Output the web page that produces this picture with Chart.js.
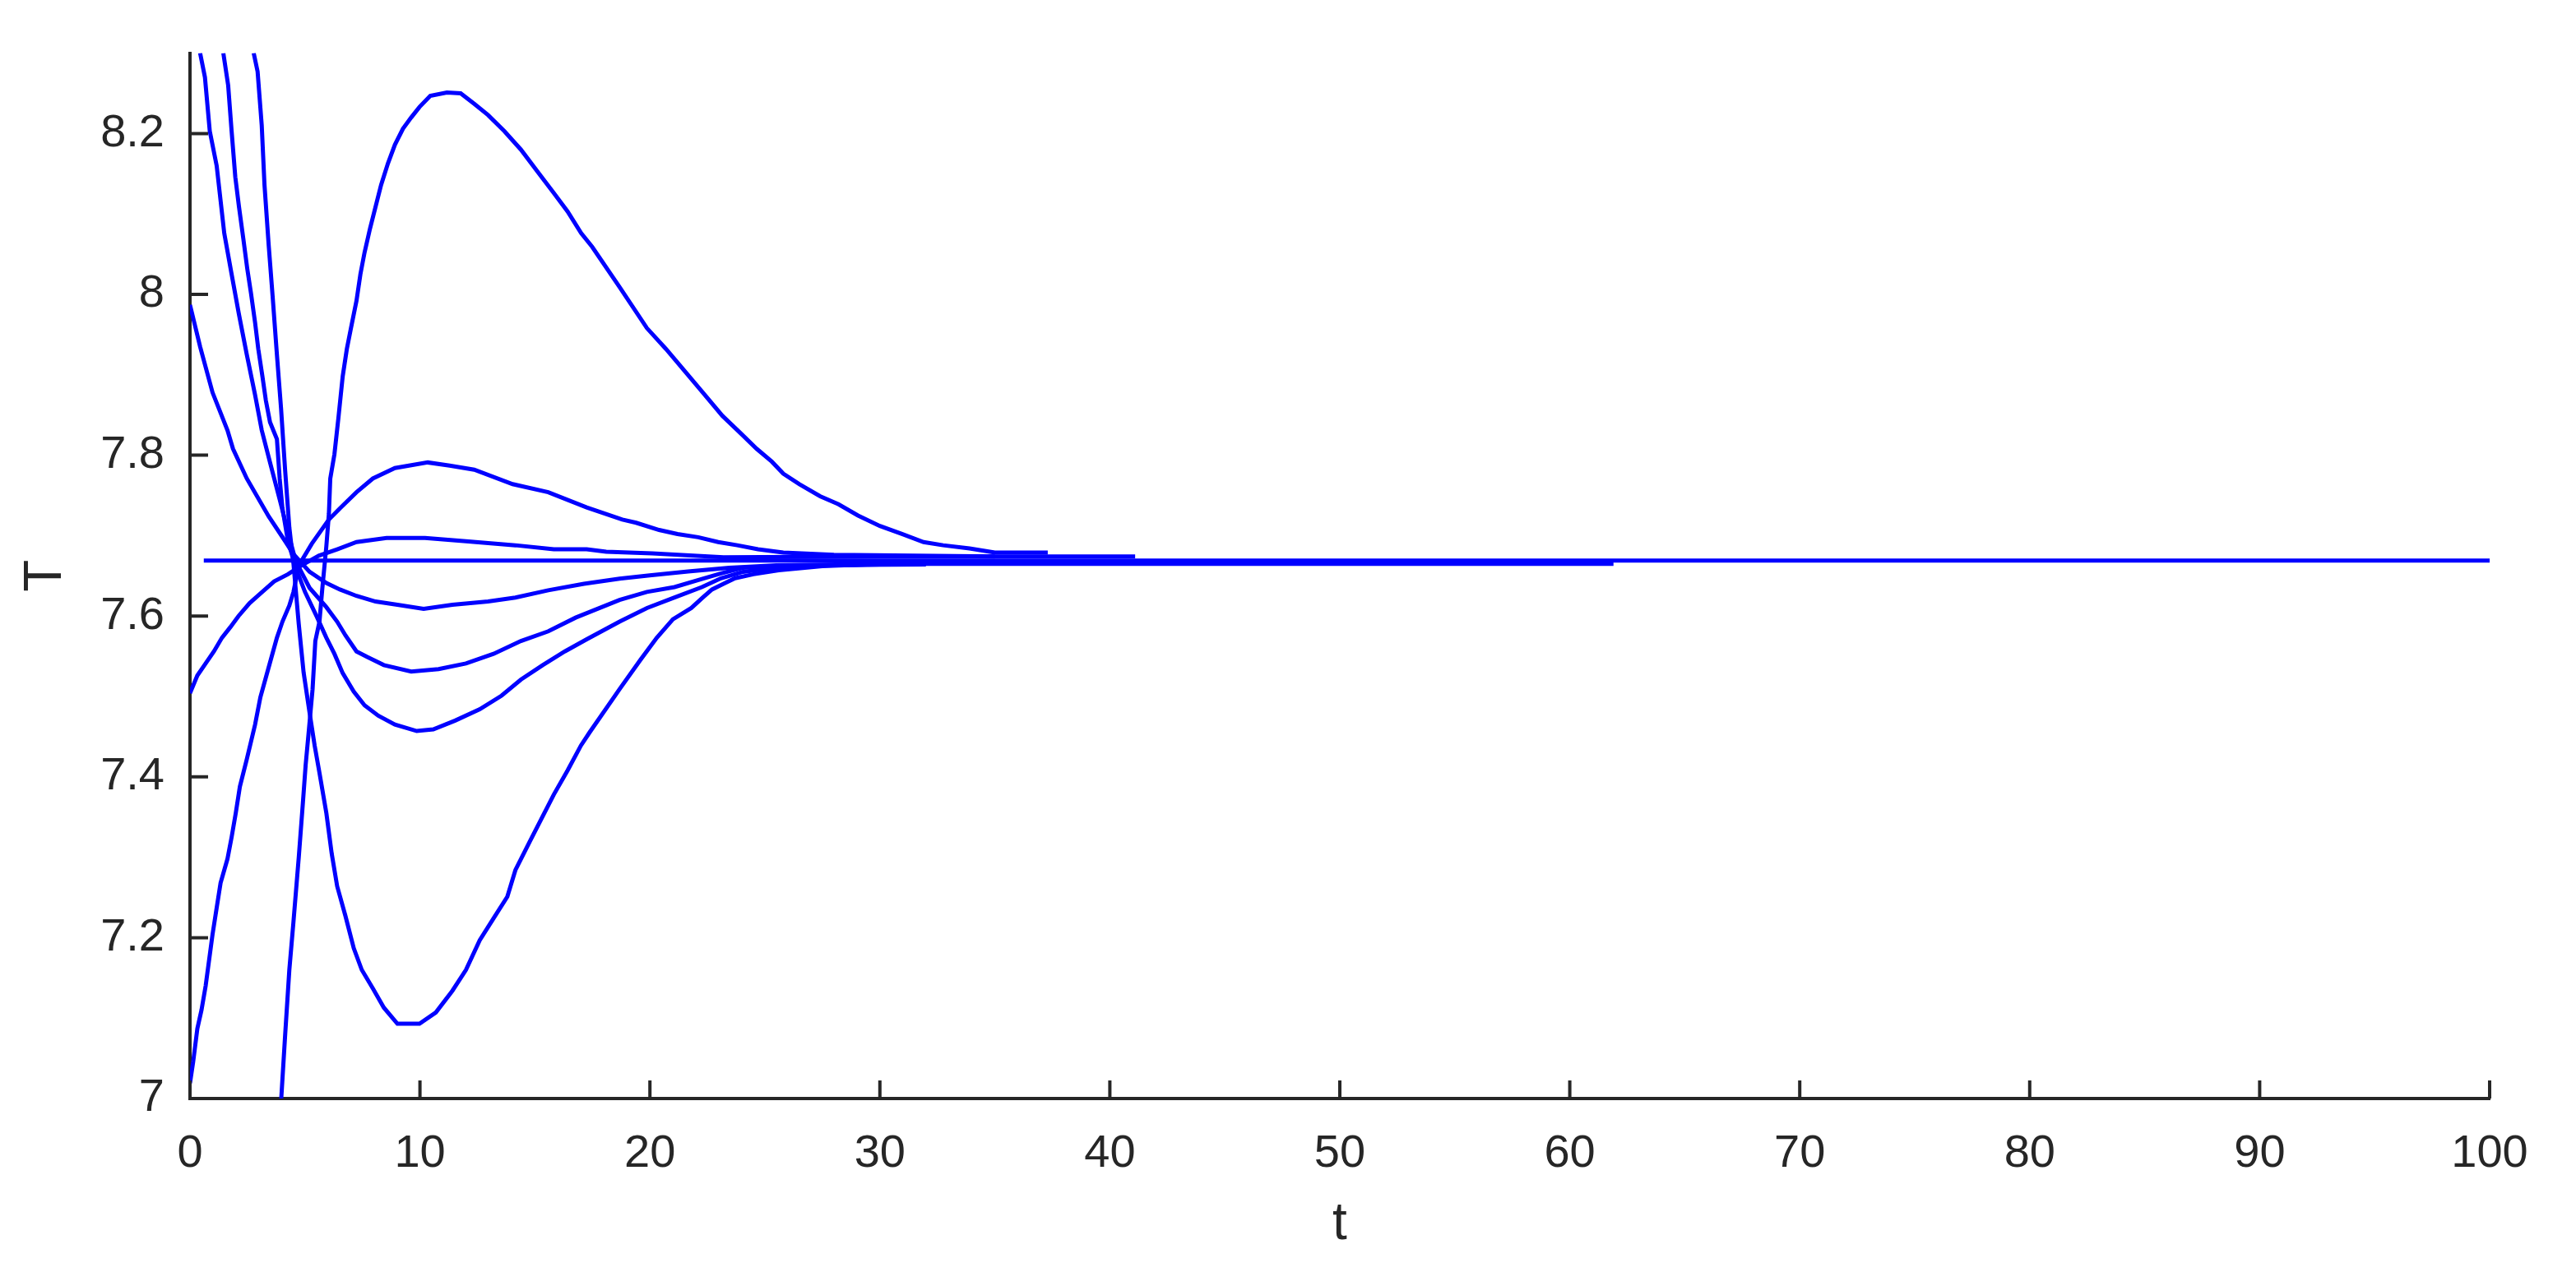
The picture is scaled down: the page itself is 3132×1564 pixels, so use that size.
<!DOCTYPE html>
<html>
<head>
<meta charset="utf-8">
<script src="https://cdn.jsdelivr.net/npm/chart.js@4.4.1/dist/chart.umd.min.js"></script>
<style>
  html, body { margin: 0; padding: 0; background: #fff; }
  #wrap { width: 3132px; height: 1564px; }
</style>
</head>
<body>
<div id="wrap"><canvas id="chart" width="3132" height="1564"></canvas></div>
<script>
// tick positions
const xTicks = [0, 10, 20, 30, 40, 50, 60, 70, 80, 90, 100];
const yTicks = [7, 7.2, 7.4, 7.6, 7.8, 8, 8.2];

// equilibrium line
const tEq = [0.6, 100];
const TEq = [7.669, 7.669];

// trajectory starting at 7.98
const tA = [0, 0.44, 0.98, 1.63, 1.87, 2.47, 3.42, 4.14, 4.5, 5.2, 5.93, 6.52, 7.24, 8.07, 9.02, 10.16, 11.41, 12.96, 14.15, 15.58, 17.13, 18.68, 19.99, 21.66, 23.45, 25.5, 30, 40, 50, 61.9];
const TA = [7.987, 7.935, 7.878, 7.831, 7.808, 7.771, 7.724, 7.693, 7.677, 7.655, 7.641, 7.633, 7.625, 7.618, 7.614, 7.609, 7.614, 7.618, 7.623, 7.632, 7.640, 7.6465, 7.6505, 7.6555, 7.660, 7.663, 7.665, 7.665, 7.665, 7.665];

// trajectory entering from the top near t=0.4
const tB = [0.44, 0.65, 0.86, 1.16, 1.49, 1.81, 2.13, 2.47, 2.83, 3.12, 3.48, 3.9, 4.3, 4.6, 5.2, 5.93, 6.4, 6.76, 7.24, 7.71, 8.43, 9.62, 10.81, 12.0, 13.2, 14.39, 15.58, 16.77, 18.68, 19.87, 21.07, 22.26, 23.09, 24.05, 26, 32];
const TB = [8.30, 8.27, 8.203, 8.16, 8.076, 8.025, 7.975, 7.925, 7.875, 7.831, 7.791, 7.745, 7.70, 7.668, 7.635, 7.611, 7.593, 7.576, 7.556, 7.549, 7.539, 7.531, 7.534, 7.541, 7.553, 7.569, 7.581, 7.598, 7.620, 7.630, 7.636, 7.646, 7.653, 7.660, 7.663, 7.664];

// trajectory entering from the top near t=1.5
const tC = [1.45, 1.66, 1.81, 1.97, 2.13, 2.32, 2.49, 2.65, 2.83, 2.97, 3.15, 3.30, 3.48, 3.78, 3.9, 4.02, 4.26, 4.6, 5.0, 5.5, 5.93, 6.28, 6.64, 7.12, 7.59, 8.19, 8.91, 9.86, 10.58, 11.53, 12.6, 13.55, 14.39, 15.34, 16.3, 17.25, 18.68, 19.87, 21.07, 22.26, 23.09, 24.05, 26, 30];
const TC = [8.30, 8.26, 8.203, 8.146, 8.109, 8.069, 8.032, 8.002, 7.965, 7.932, 7.898, 7.868, 7.841, 7.82, 7.771, 7.734, 7.693, 7.66, 7.63, 7.60, 7.573, 7.553, 7.529, 7.506, 7.489, 7.476, 7.465, 7.457, 7.459, 7.470, 7.484, 7.501, 7.521, 7.539, 7.556, 7.571, 7.593, 7.610, 7.623, 7.636, 7.647, 7.655, 7.662, 7.664];

// trajectory entering from the top near t=2.8, deep minimum
const tD = [2.77, 2.94, 3.12, 3.24, 3.42, 3.60, 3.78, 3.96, 4.14, 4.32, 4.5, 4.73, 4.94, 5.2, 5.42, 5.63, 5.93, 6.16, 6.40, 6.76, 7.12, 7.47, 7.95, 8.43, 9.02, 9.98, 10.69, 11.41, 12.0, 12.6, 13.2, 13.8, 14.15, 14.75, 15.34, 15.82, 16.42, 17.0, 17.37, 18.68, 19.6, 20.3, 21.0, 21.8, 22.3, 22.7, 23.2, 23.7, 24.5, 25.6, 27.5, 30.1];
const TD = [8.30, 8.277, 8.21, 8.136, 8.062, 7.995, 7.925, 7.858, 7.78, 7.71, 7.665, 7.59, 7.53, 7.48, 7.439, 7.405, 7.355, 7.305, 7.264, 7.227, 7.187, 7.160, 7.137, 7.113, 7.093, 7.093, 7.107, 7.134, 7.160, 7.197, 7.224, 7.251, 7.284, 7.318, 7.351, 7.378, 7.408, 7.439, 7.455, 7.509, 7.546, 7.573, 7.596, 7.610, 7.623, 7.633, 7.640, 7.647, 7.652, 7.657, 7.662, 7.665];

// trajectory starting at 7.5
const tE = [0, 0.32, 0.68, 1.04, 1.39, 1.75, 2.11, 2.59, 3.06, 3.66, 4.26, 4.85, 5.6, 6.40, 7.24, 8.55, 10.22, 12.0, 14.15, 15.82, 17.25, 18.1, 20.1, 23.2, 30, 41.1];
const TE = [7.504, 7.526, 7.541, 7.556, 7.573, 7.586, 7.600, 7.616, 7.628, 7.643, 7.652, 7.663, 7.675, 7.683, 7.692, 7.697, 7.697, 7.693, 7.688, 7.683, 7.683, 7.680, 7.678, 7.673, 7.674, 7.674];

// trajectory starting at 7.02
const tF = [0, 0.14, 0.32, 0.5, 0.68, 0.98, 1.16, 1.33, 1.63, 1.81, 1.99, 2.17, 2.47, 2.83, 3.06, 3.42, 3.78, 4.02, 4.32, 4.5, 4.73, 5.3, 6.04, 6.52, 7.24, 7.95, 8.91, 10.34, 11.29, 12.36, 14.03, 15.58, 17.25, 18.8, 19.4, 20.4, 21.2, 22.1, 22.97, 23.8, 24.7, 25.8, 28, 35];
const TF = [7.019, 7.046, 7.087, 7.110, 7.140, 7.204, 7.237, 7.268, 7.298, 7.325, 7.355, 7.388, 7.422, 7.465, 7.499, 7.536, 7.573, 7.593, 7.613, 7.630, 7.663, 7.69, 7.720, 7.734, 7.754, 7.771, 7.784, 7.791, 7.787, 7.782, 7.764, 7.754, 7.735, 7.720, 7.716, 7.707, 7.702, 7.698, 7.692, 7.688, 7.683, 7.679, 7.676, 7.674];

// trajectory entering from the bottom near t=4, big overshoot
const tG = [3.96, 4.14, 4.32, 4.5, 4.73, 4.91, 5.03, 5.15, 5.33, 5.45, 5.63, 5.75, 5.93, 6.04, 6.10, 6.28, 6.46, 6.64, 6.82, 7.0, 7.24, 7.41, 7.59, 7.83, 8.07, 8.31, 8.61, 8.91, 9.26, 9.62, 9.98, 10.45, 11.17, 11.77, 12.36, 12.96, 13.67, 14.39, 15.1, 15.82, 16.42, 17.01, 17.49, 18.68, 19.87, 20.7, 21.5, 22.3, 23.15, 23.99, 24.64, 25.3, 25.8, 26.5, 27.4, 28.2, 29.05, 30.0, 30.96, 31.9, 32.75, 33.9, 35.0, 37.3];
const TG = [6.996, 7.08, 7.16, 7.22, 7.30, 7.368, 7.415, 7.452, 7.509, 7.569, 7.593, 7.633, 7.687, 7.727, 7.771, 7.801, 7.848, 7.898, 7.932, 7.958, 7.992, 8.025, 8.052, 8.082, 8.109, 8.136, 8.163, 8.186, 8.206, 8.220, 8.233, 8.247, 8.251, 8.250, 8.237, 8.223, 8.203, 8.180, 8.153, 8.126, 8.103, 8.076, 8.059, 8.009, 7.958, 7.932, 7.905, 7.878, 7.849, 7.826, 7.808, 7.792, 7.777, 7.764, 7.749, 7.739, 7.725, 7.712, 7.702, 7.692, 7.688, 7.684, 7.679, 7.679];

const series = [
  [tEq, TEq], [tA, TA], [tB, TB], [tC, TC], [tD, TD], [tE, TE], [tF, TF], [tG, TG]
];

const axisColor = '#262626';
const fontFamily = '"Liberation Sans", Arial, sans-serif';

// ticks point into the plot, Octave style
const inwardTicks = {
  id: 'inwardTicks',
  afterDraw(chart) {
    const { ctx, chartArea, scales } = chart;
    const len = 22;
    ctx.save();
    ctx.strokeStyle = axisColor;
    ctx.lineWidth = 4;
    ctx.beginPath();
    scales.x.ticks.forEach(t => {
      const px = scales.x.getPixelForValue(t.value);
      ctx.moveTo(px, chartArea.bottom);
      ctx.lineTo(px, chartArea.bottom - len);
    });
    scales.y.ticks.forEach(t => {
      const py = scales.y.getPixelForValue(t.value);
      ctx.moveTo(chartArea.left, py);
      ctx.lineTo(chartArea.left + len, py);
    });
    ctx.stroke();
    ctx.restore();
  }
};

new Chart(document.getElementById('chart'), {
  type: 'line',
  data: {
    datasets: series.map(([ts, Ts]) => ({
      data: ts.map((t, i) => ({ x: t, y: Ts[i] })),
      borderColor: '#0000ff',
      borderWidth: 5,
      pointRadius: 0,
      tension: 0,
      fill: false
    }))
  },
  options: {
    responsive: false,
    animation: false,
    devicePixelRatio: 1,
    layout: { padding: { top: 44, right: 105, left: 0, bottom: 0 } },
    plugins: { legend: { display: false }, tooltip: { enabled: false } },
    scales: {
      x: {
        type: 'linear',
        min: 0,
        max: 100,
        afterBuildTicks: s => { s.ticks = xTicks.map(v => ({ value: v })); },
        afterFit: s => { s.height = 228; },
        grid: { display: false, drawTicks: false },
        border: { display: true, color: axisColor, width: 4 },
        ticks: {
          padding: 34,
          color: axisColor,
          font: { family: fontFamily, size: 56 },
          maxRotation: 0,
          callback: v => String(v)
        },
        title: {
          display: true,
          text: 't',
          color: axisColor,
          font: { family: fontFamily, size: 64 },
          padding: { top: 0, bottom: 36 }
        }
      },
      y: {
        type: 'linear',
        min: 7,
        max: 8.3,
        afterBuildTicks: s => { s.ticks = yTicks.map(v => ({ value: v })); },
        afterFit: s => { s.width = 231; },
        grid: { display: false, drawTicks: false },
        border: { display: true, color: axisColor, width: 4 },
        ticks: {
          padding: 31,
          color: axisColor,
          font: { family: fontFamily, size: 56 },
          callback: v => String(v)
        },
        title: {
          display: true,
          text: 'T',
          color: axisColor,
          font: { family: fontFamily, size: 64 },
          padding: { top: 18, bottom: 0 }
        }
      }
    }
  },
  plugins: [inwardTicks]
});
</script>
</body>
</html>
